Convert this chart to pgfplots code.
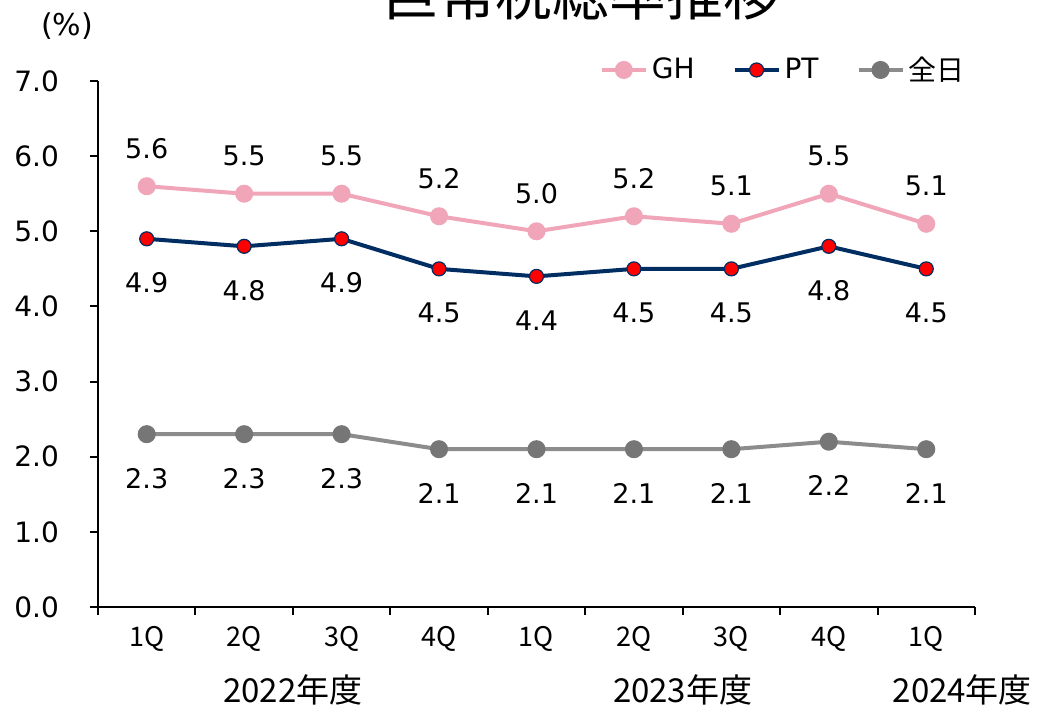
\documentclass[border=0pt]{standalone}
\usepackage{fontspec}
\setmainfont{DejaVu Sans}
\newfontfamily\cjk{Noto Sans CJK JP}
\usepackage{pgfplots}
\pgfplotsset{compat=1.18}
\definecolor{ghpink}{RGB}{240,166,184}
\definecolor{ptnavy}{RGB}{0,45,98}
\definecolor{ptred}{RGB}{255,0,0}
\definecolor{allgray}{RGB}{140,140,140}
\definecolor{allmark}{RGB}{118,118,118}
\begin{document}
\begin{tikzpicture}
\begin{axis}[
  scale only axis, width=438.5pt, height=263pt,
  xmin=-0.5, xmax=8.5, ymin=0, ymax=7,
  axis x line*=bottom, axis y line*=left,
  axis line style={line width=1pt,-},
  /pgf/number format/assume math mode=true,
  xtick={0,...,8},
  xticklabels={1Q,2Q,3Q,4Q,1Q,2Q,3Q,4Q,1Q},
  major x tick style={draw=none},
  minor xtick={-0.5,0.5,...,8.5},
  minor x tick style={line width=1pt,black},
  minor tick length=4pt,
  ytick={0,1,...,7},
  y tick style={line width=1pt,black},
  major tick length=4pt,
  tick align=outside,
  yticklabel={\pgfmathprintnumber[fixed,fixed zerofill,precision=1]{\tick}},
  yticklabel style={font=\fontsize{14}{16}\selectfont, anchor=east, xshift=-12pt},
  xticklabel style={font=\cjk\fontsize{13.5}{16}\selectfont, anchor=center, yshift=-12pt},
  legend style={draw=none, fill=none, at={(1.0,1.021)}, anchor=east,
    font=\fontsize{14}{16}\selectfont,
    /tikz/every even column/.append style={column sep=17pt}},
  legend columns=3,
  legend image code/.code={\draw[mark repeat=2,mark phase=2] plot coordinates {(0pt,0pt) (11pt,0pt) (22pt,0pt)};},
  point meta=y,
  nodes near coords={\pgfmathprintnumber[fixed,fixed zerofill,precision=1]{\pgfplotspointmeta}},
  every node near coord/.append style={font=\fontsize{13.5}{16}\selectfont, anchor=center, inner sep=0pt, text=black},
  clip=false,
]
\addplot[color=ghpink, line width=2pt, mark=*, mark size=3.5pt,
  mark options={fill=ghpink, draw=ghpink},
  every node near coord/.append style={yshift=19pt}]
  coordinates {(0,5.6) (1,5.5) (2,5.5) (3,5.2) (4,5.0) (5,5.2) (6,5.1) (7,5.5) (8,5.1)};
\addlegendentry{GH}
\addplot[color=ptnavy, line width=2pt, mark=*, mark size=3.5pt,
  mark options={fill=ptred, draw=ptnavy, line width=0.6pt},
  every node near coord/.append style={yshift=-22pt}]
  coordinates {(0,4.9) (1,4.8) (2,4.9) (3,4.5) (4,4.4) (5,4.5) (6,4.5) (7,4.8) (8,4.5)};
\addlegendentry{PT}
\addplot[color=allgray, line width=2pt, mark=*, mark size=3.5pt,
  mark options={fill=allmark, draw=allmark},
  every node near coord/.append style={yshift=-22pt}]
  coordinates {(0,2.3) (1,2.3) (2,2.3) (3,2.1) (4,2.1) (5,2.1) (6,2.1) (7,2.2) (8,2.1)};
\addlegendentry{\cjk 全日}
\node[font=\cjk\fontsize{16.5}{18}\selectfont, anchor=center] at (axis cs:1.5,0) [yshift=-41.5pt] {2022年度};
\node[font=\cjk\fontsize{16.5}{18}\selectfont, anchor=center] at (axis cs:5.5,0) [yshift=-41.5pt] {2023年度};
\node[font=\cjk\fontsize{16.5}{18}\selectfont, anchor=center] at (axis cs:8.37,0) [yshift=-41.5pt] {2024年度};
\end{axis}
\node[font=\cjk\fontsize{28.4}{32}\selectfont, anchor=base] at (241.5pt,295.5pt) {巨常税総率推移};
\node[font=\fontsize{15}{17}\selectfont, anchor=center] at (-15.5pt,290.5pt) {(\%)};
\pgfresetboundingbox
\useasboundingbox (-49pt,-52.5pt) rectangle (481.5pt,303.5pt);
\end{tikzpicture}
\end{document}
